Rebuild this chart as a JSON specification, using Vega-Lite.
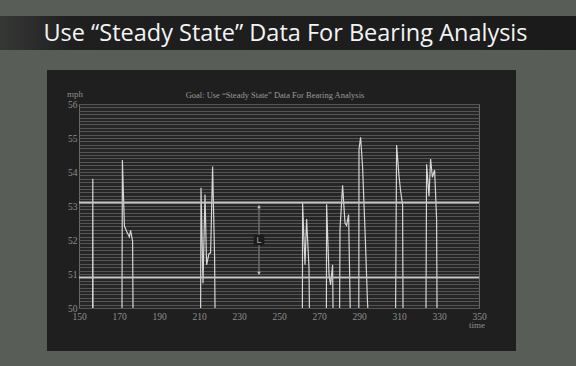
{
  "$schema": "https://vega.github.io/schema/vega-lite/v6.json",
  "autosize": "none",
  "width": 400,
  "height": 204,
  "padding": {"left": 79, "top": 104, "right": 97, "bottom": 58},
  "background": "#1f1f1f",
  "config": {
    "view": {"fill": "#262626", "stroke": "#6a6a6a", "strokeWidth": 1},
    "font": "Liberation Serif"
  },
  "resolve": {"axis": {"x": "independent", "y": "independent"}},
  "datasets": {
    "speed": [
      {"seg": 1, "t": 156.8, "mph": 50}, {"seg": 1, "t": 156.9, "mph": 53.8}, {"seg": 1, "t": 157.0, "mph": 50},
      {"seg": 2, "t": 171.5, "mph": 50}, {"seg": 2, "t": 171.7, "mph": 54.35}, {"seg": 2, "t": 172.7, "mph": 52.41}, {"seg": 2, "t": 173.8, "mph": 52.26}, {"seg": 2, "t": 175.2, "mph": 52.09}, {"seg": 2, "t": 175.8, "mph": 52.28}, {"seg": 2, "t": 176.8, "mph": 51.96}, {"seg": 2, "t": 177.0, "mph": 50},
      {"seg": 3, "t": 210.8, "mph": 50}, {"seg": 3, "t": 211.0, "mph": 53.54}, {"seg": 3, "t": 212.0, "mph": 50.73}, {"seg": 3, "t": 213.0, "mph": 53.34}, {"seg": 3, "t": 213.8, "mph": 51.27}, {"seg": 3, "t": 215.0, "mph": 51.6}, {"seg": 3, "t": 215.8, "mph": 51.62}, {"seg": 3, "t": 216.8, "mph": 54.16}, {"seg": 3, "t": 217.8, "mph": 51.47}, {"seg": 3, "t": 218.0, "mph": 50},
      {"seg": 4, "t": 261.7, "mph": 50}, {"seg": 4, "t": 261.8, "mph": 53.08}, {"seg": 4, "t": 263.0, "mph": 51.27}, {"seg": 4, "t": 263.8, "mph": 52.62}, {"seg": 4, "t": 265.0, "mph": 51.17}, {"seg": 4, "t": 265.2, "mph": 50},
      {"seg": 5, "t": 273.7, "mph": 50}, {"seg": 5, "t": 273.8, "mph": 53.05}, {"seg": 5, "t": 275.0, "mph": 50.98}, {"seg": 5, "t": 275.8, "mph": 50.68}, {"seg": 5, "t": 276.8, "mph": 51.27}, {"seg": 5, "t": 277.0, "mph": 50},
      {"seg": 6, "t": 280.3, "mph": 50}, {"seg": 6, "t": 280.5, "mph": 52.31}, {"seg": 6, "t": 281.8, "mph": 53.61}, {"seg": 6, "t": 283.0, "mph": 52.5}, {"seg": 6, "t": 283.8, "mph": 52.43}, {"seg": 6, "t": 284.8, "mph": 52.75}, {"seg": 6, "t": 285.6, "mph": 50},
      {"seg": 7, "t": 289.9, "mph": 50}, {"seg": 7, "t": 290.0, "mph": 54.67}, {"seg": 7, "t": 290.8, "mph": 55.02}, {"seg": 7, "t": 291.8, "mph": 54.13}, {"seg": 7, "t": 293.2, "mph": 51.96}, {"seg": 7, "t": 294.2, "mph": 50.24}, {"seg": 7, "t": 294.4, "mph": 50},
      {"seg": 8, "t": 308.3, "mph": 50}, {"seg": 8, "t": 308.8, "mph": 54.79}, {"seg": 8, "t": 310.0, "mph": 53.88}, {"seg": 8, "t": 310.8, "mph": 53.44}, {"seg": 8, "t": 311.8, "mph": 53.02}, {"seg": 8, "t": 312.0, "mph": 50},
      {"seg": 9, "t": 323.5, "mph": 50}, {"seg": 9, "t": 323.8, "mph": 54.23}, {"seg": 9, "t": 325.0, "mph": 53.29}, {"seg": 9, "t": 325.8, "mph": 54.38}, {"seg": 9, "t": 326.7, "mph": 53.84}, {"seg": 9, "t": 327.8, "mph": 54.06}, {"seg": 9, "t": 328.8, "mph": 52.6}, {"seg": 9, "t": 329.0, "mph": 50}
    ],
    "limits": [{"mph": 53.1}, {"mph": 50.9}]
  },
  "layer": [
    {
      "data": {"name": "speed"},
      "mark": {"type": "line", "color": "#d6d6d6", "strokeWidth": 1.2},
      "encoding": {
        "x": {"field": "t", "type": "quantitative",
              "scale": {"domain": [150, 350], "nice": false, "zero": false},
              "axis": {"values": [150, 170, 190, 210, 230, 250, 270, 290, 310, 330, 350], "format": "d", "grid": false, "ticks": false, "domain": false, "labelOverlap": false, "labelColor": "#8f8f8f", "labelFont": "Liberation Serif", "labelFontSize": 9.5, "labelPadding": 3, "labelFlush": false, "title": null}},
        "y": {"field": "mph", "type": "quantitative",
              "scale": {"domain": [50, 56], "nice": false, "zero": false},
              "axis": {"tickCount": 60, "grid": true, "gridColor": "#555555", "gridOpacity": 1, "gridWidth": 1, "ticks": false, "domain": false, "format": ".0f", "labelExpr": "datum.value % 1 == 0 ? datum.label : ''", "labelOverlap": false, "labelColor": "#8f8f8f", "labelFont": "Liberation Serif", "labelFontSize": 9.5, "labelPadding": 2, "labelFlush": false, "title": null}},
        "detail": {"field": "seg", "type": "nominal"},
        "order": {"field": "t", "type": "quantitative"}
      }
    },
    {
      "data": {"name": "limits"},
      "mark": {"type": "rule", "color": "#c4c4c4", "strokeWidth": 2},
      "encoding": {"y": {"field": "mph", "type": "quantitative", "axis": null}}
    },
    {
      "data": {"values": [{}]},
      "mark": {"type": "rule", "color": "#6e6e6e", "strokeWidth": 1.5},
      "encoding": {"x": {"datum": 240, "type": "quantitative", "axis": null}, "y": {"datum": 53.03, "type": "quantitative", "axis": null}, "y2": {"datum": 50.97}}
    },
    {
      "data": {"values": [{}]},
      "mark": {"type": "point", "shape": "triangle-up", "filled": true, "color": "#bdbdbd", "size": 14, "opacity": 1},
      "encoding": {"x": {"datum": 240, "type": "quantitative", "axis": null}, "y": {"datum": 52.98, "type": "quantitative", "axis": null}}
    },
    {
      "data": {"values": [{}]},
      "mark": {"type": "point", "shape": "triangle-down", "filled": true, "color": "#bdbdbd", "size": 14, "opacity": 1},
      "encoding": {"x": {"datum": 240, "type": "quantitative", "axis": null}, "y": {"datum": 51.02, "type": "quantitative", "axis": null}}
    },
    {
      "data": {"values": [{}]},
      "mark": {"type": "square", "filled": true, "color": "#1c1c1c", "size": 110, "opacity": 1},
      "encoding": {"x": {"datum": 240, "type": "quantitative", "axis": null}, "y": {"datum": 52.0, "type": "quantitative", "axis": null}}
    },
    {
      "data": {"values": [{}]},
      "mark": {"type": "text", "text": "L", "color": "#a8a8a8", "fontSize": 9, "font": "Liberation Sans", "align": "center", "baseline": "middle"},
      "encoding": {"x": {"datum": 240, "type": "quantitative", "axis": null}, "y": {"datum": 52.0, "type": "quantitative", "axis": null}}
    },
    {
      "data": {"values": [{}]},
      "mark": {"type": "rect", "color": "#585d57"},
      "encoding": {"x": {"datum": 110.5, "type": "quantitative", "axis": null}, "x2": {"datum": 398.5}, "y": {"datum": 59.06, "type": "quantitative", "axis": null}, "y2": {"datum": 57.0}}
    },
    {
      "data": {"values": [{}]},
      "mark": {"type": "rect", "color": "#585d57"},
      "encoding": {"x": {"datum": 110.5, "type": "quantitative", "axis": null}, "x2": {"datum": 398.5}, "y": {"datum": 48.735, "type": "quantitative", "axis": null}, "y2": {"datum": 48.29}}
    },
    {
      "data": {"values": [{}]},
      "mark": {"type": "rect", "color": "#585d57"},
      "encoding": {"x": {"datum": 110.5, "type": "quantitative", "axis": null}, "x2": {"datum": 134}, "y": {"datum": 57.0, "type": "quantitative", "axis": null}, "y2": {"datum": 48.735}}
    },
    {
      "data": {"values": [{}]},
      "mark": {"type": "rect", "color": "#585d57"},
      "encoding": {"x": {"datum": 368.5, "type": "quantitative", "axis": null}, "x2": {"datum": 398.5}, "y": {"datum": 57.0, "type": "quantitative", "axis": null}, "y2": {"datum": 48.735}}
    },
    {
      "data": {"values": [{}]},
      "mark": {"type": "rect", "color": {"gradient": "linear", "x1": 0, "x2": 1, "y1": 0, "y2": 0, "stops": [{"offset": 0, "color": "#363836"}, {"offset": 0.12, "color": "#1f1f1f"}, {"offset": 1, "color": "#1b1b1b"}]}},
      "encoding": {"x": {"datum": 110.5, "type": "quantitative", "axis": null}, "x2": {"datum": 398.5}, "y": {"datum": 58.59, "type": "quantitative", "axis": null}, "y2": {"datum": 57.59}}
    },
    {
      "data": {"values": [{}]},
      "mark": {"type": "text", "text": "Use “Steady State” Data For Bearing Analysis", "color": "#f4f4f4", "fontSize": 23.5, "font": "Open Sans", "align": "center", "baseline": "alphabetic"},
      "encoding": {"x": {"datum": 253.25, "type": "quantitative", "axis": null}, "y": {"datum": 57.85, "type": "quantitative", "axis": null}}
    },
    {
      "data": {"values": [{}]},
      "mark": {"type": "text", "text": "Goal: Use “Steady State” Data For Bearing Analysis", "color": "#9a9a9a", "fontSize": 8.5, "font": "Liberation Serif", "align": "center", "baseline": "alphabetic"},
      "encoding": {"x": {"datum": 248, "type": "quantitative", "axis": null}, "y": {"datum": 56.18, "type": "quantitative", "axis": null}}
    },
    {
      "data": {"values": [{}]},
      "mark": {"type": "text", "text": "mph", "color": "#8f8f8f", "fontSize": 9, "font": "Liberation Serif", "align": "left", "baseline": "alphabetic"},
      "encoding": {"x": {"datum": 144, "type": "quantitative", "axis": null}, "y": {"datum": 56.2, "type": "quantitative", "axis": null}}
    },
    {
      "data": {"values": [{}]},
      "mark": {"type": "text", "text": "time", "color": "#8f8f8f", "fontSize": 9, "font": "Liberation Serif", "align": "center", "baseline": "alphabetic"},
      "encoding": {"x": {"datum": 349, "type": "quantitative", "axis": null}, "y": {"datum": 49.4, "type": "quantitative", "axis": null}}
    }
  ]
}
